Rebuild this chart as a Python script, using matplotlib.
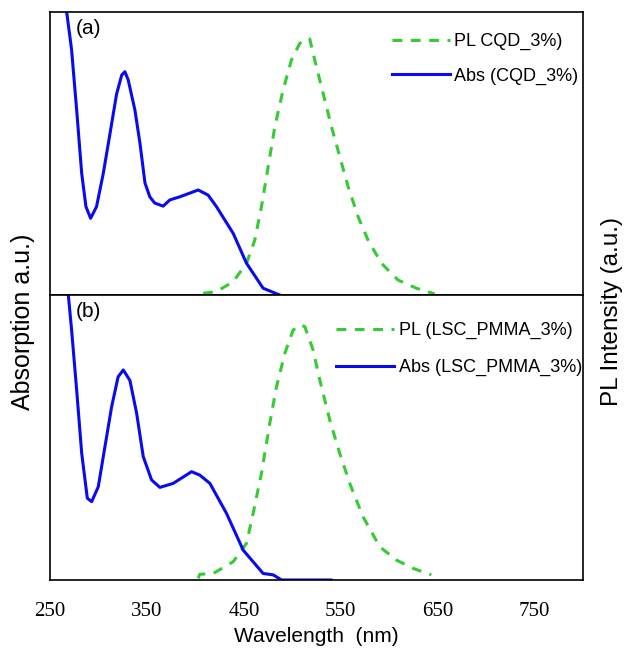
import matplotlib
matplotlib.use("Agg")
import matplotlib.pyplot as plt

plt.rcParams["font.family"] = ["Liberation Sans", "DejaVu Sans"]

# ----- data (normalised to each panel height) -----
abs_a_wl = [264, 267.2, 272.3, 277.5, 282.7, 287.1, 291.9, 298, 305, 311.9, 318.7, 324,
            327.3, 330.7, 337.6, 342.8, 348, 353, 358, 366.8, 373.7, 384, 402.9, 413.2,
            421.8, 439, 452.8, 469.9, 487]
abs_a = [1.15, 1.0, 0.866, 0.654, 0.43, 0.312, 0.271, 0.312, 0.43, 0.57, 0.71, 0.777,
         0.789, 0.76, 0.654, 0.537, 0.396, 0.347, 0.325, 0.314, 0.336, 0.347, 0.371, 0.353,
         0.312, 0.218, 0.112, 0.024, 0.0]

pl_a_wl = [408, 421.8, 439, 452.8, 461.3, 468.2, 475.1, 482, 490.5, 499.1, 507.7, 516.3,
           518, 523.2, 531.8, 540.4, 549, 557.6, 567.9, 578.2, 592, 609.1, 628, 646.9]
pl_a = [0.006, 0.012, 0.047, 0.112, 0.194, 0.312, 0.453, 0.595, 0.724, 0.83, 0.889, 0.907,
        0.905, 0.83, 0.713, 0.595, 0.489, 0.383, 0.277, 0.194, 0.112, 0.053, 0.024, 0.004]

abs_b_wl = [264, 268.9, 272.3, 277.5, 282.7, 288.5, 293, 299.8, 306.7, 313.6, 320.3, 325.6,
            332.5, 339.4, 346.2, 354.8, 363.4, 377.1, 396.1, 404.6, 415, 432.1, 449.3,
            469.9, 480.3, 489, 540]
abs_b = [1.15, 1.0, 0.877, 0.667, 0.445, 0.287, 0.275, 0.327, 0.468, 0.608, 0.713, 0.737,
         0.70, 0.585, 0.433, 0.351, 0.325, 0.339, 0.38, 0.368, 0.339, 0.234, 0.105,
         0.023, 0.018, 0.0, 0.0]

pl_b_wl = [402.9, 404.6, 418.4, 439, 452.8, 459.6, 468.2, 476.8, 483.7, 492.3, 500.9, 507.7,
           512.9, 521.5, 528.4, 538.7, 549, 559.3, 573, 590.2, 607.4, 624.5, 643.5]
pl_b = [0.006, 0.02, 0.023, 0.064, 0.129, 0.234, 0.374, 0.55, 0.678, 0.795, 0.877, 0.895,
        0.889, 0.807, 0.702, 0.561, 0.444, 0.339, 0.222, 0.117, 0.07, 0.041, 0.018]

xticks = [250, 350, 450, 550, 650, 750]

blue = "#0a0af0"
green = "#33cc33"

fig = plt.figure(figsize=(6.34, 6.56), dpi=100)
left, right = 50 / 634, 583 / 634
ax_a = fig.add_axes([left, 1 - 295 / 656, right - left, 283 / 656])
ax_b = fig.add_axes([left, 1 - 580 / 656, right - left, 285 / 656])

panels = [
    (ax_a, abs_a_wl, abs_a, pl_a_wl, pl_a, "PL CQD_3%)", "Abs (CQD_3%)", "(a)", 0.642, 0.925, 0.95),
    (ax_b, abs_b_wl, abs_b, pl_b_wl, pl_b, "PL (LSC_PMMA_3%)", "Abs (LSC_PMMA_3%)", "(b)", 0.537, 0.905, 1.1),
]

for ax, awl, av, pwl, pv, pl_lab, abs_lab, tag, lx, ly, lsp in panels:
    ax.plot(pwl, pv, color=green, lw=2.2, ls=(0, (3.2, 2.8)), label=pl_lab)
    ax.plot(awl, av, color=blue, lw=2.2, label=abs_lab)
    ax.set_xlim(250, 800)
    ax.set_ylim(0, 1)
    ax.set_yticks([])
    ax.set_xticks(xticks)
    ax.tick_params(length=0)
    for sp in ax.spines.values():
        sp.set_linewidth(1.2)
    ax.text(0.048, 0.975, tag, transform=ax.transAxes, fontsize=15, va="top", ha="left")
    ax.legend(loc="upper left", bbox_to_anchor=(lx, ly), frameon=False, fontsize=13,
              handlelength=3.2, handletextpad=0.25, labelspacing=lsp, borderpad=0,
              borderaxespad=0)

ax_a.set_xticklabels([])
ax_b.set_xticklabels([str(t) for t in xticks], family="Liberation Serif", fontsize=15)
ax_b.tick_params(axis="x", pad=16)

fig.text(316 / 634, 1 - 637 / 656, "Wavelength  (nm)", ha="center", va="center", fontsize=15)
fig.text(23 / 634, 1 - 322 / 656, "Absorption a.u.)", rotation=90, ha="center", va="center", fontsize=18)
fig.text(612 / 634, 1 - 312 / 656, "PL Intensity (a.u.)", rotation=90, ha="center", va="center", fontsize=17.5)

fig.savefig("out.png", dpi=100)
